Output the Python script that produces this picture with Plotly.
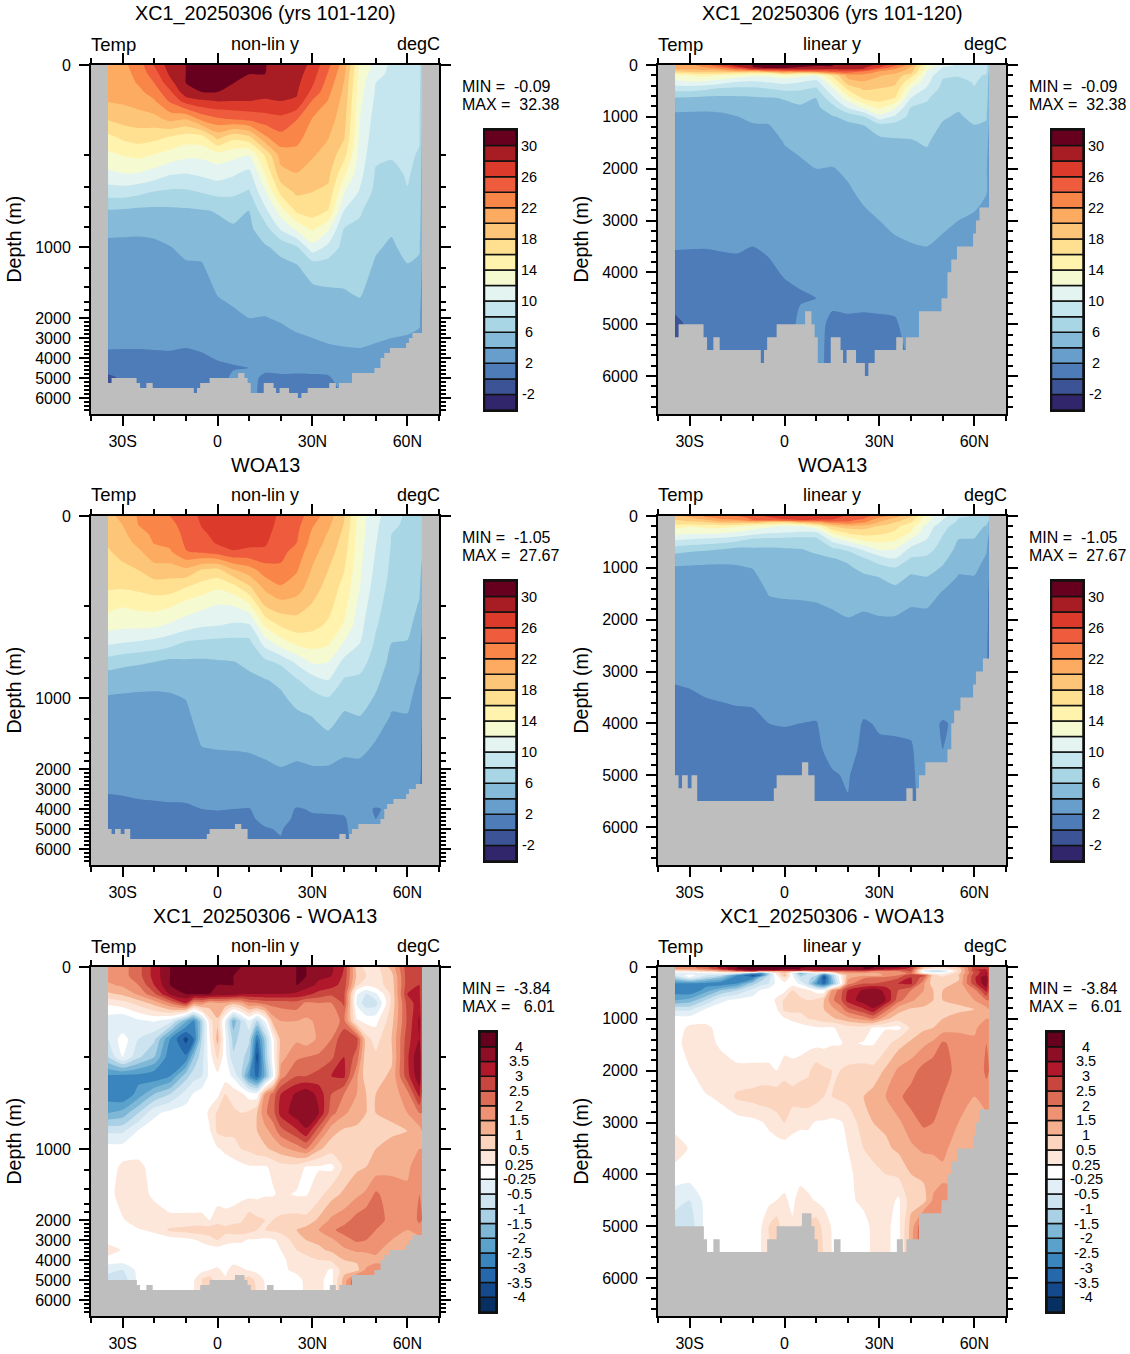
import numpy as np
import plotly.graph_objects as go

WIDTH, HEIGHT = 1130, 1354
FONT = "Liberation Sans"

# depth rows (m) shared by all three fields
depth_m = [0, 20, 40, 60, 80, 120, 160, 200, 320, 450, 640, 820, 1000, 1170, 1470,
           2000, 2500, 3000, 3500, 4000, 4500, 5000, 6000]

# zonal-mean temperature columns, one list per latitude, top to bottom
temp_lat = [-34.6, -30, -25, -20, -15, -10, -5, 0, 5, 10, 15, 20, 25, 30, 35, 40, 45, 50, 55, 60, 63.8, 64.6]

model_temp = [
    [21.5, 21.0, 20.8, 20.6, 20.1, 18.2, 15.5, 13.5, 11.5, 8.9, 5.8, 4.35, 3.65, 3.5, 3.1, 2.6, 2.4, 2.2, 2.05, 1.7, 0.5, -0.3, -0.5],
    [21.5, 21.2, 21, 20.8, 20.3, 18.8, 16.4, 14.1, 11.9, 9, 5.7, 4.3, 3.65, 3.5, 3.15, 2.6, 2.4, 2.2, 2.05, 1.6, 1.0, 0.2, 0.2],
    [23, 22.6, 22.2, 21.5, 20.8, 19.1, 16.9, 14.5, 11.8, 8.5, 5.5, 4.25, 3.65, 3.55, 3.1, 2.6, 2.4, 2.25, 2.05, 1.5, 1.0, 0.7, 0.6],
    [26.2, 25, 24, 22.9, 21.8, 19.3, 16.6, 13.9, 11.1, 7.9, 5.5, 4.35, 3.7, 3.5, 3.1, 2.6, 2.4, 2.25, 2.1, 1.6, 1.0, 0.7, 0.6],
    [29, 28.4, 27.3, 25.6, 24.3, 20.6, 15.9, 13.2, 10.1, 7.6, 5.6, 4.8, 3.95, 3.6, 3.15, 2.7, 2.5, 2.3, 2.15, 1.6, 1.0, 0.7, 0.6],
    [30.6, 30.4, 30.2, 29.3, 26.9, 20.1, 15.1, 12.5, 9.9, 7.65, 5.7, 5.05, 4.4, 3.85, 3.3, 2.7, 2.5, 2.25, 2.0, 1.7, 1.2, 0.8, 0.7],
    [31, 30.8, 30.4, 30.1, 27.7, 22.6, 15.3, 12.5, 10.3, 8.1, 5.85, 5.2, 4.5, 3.9, 3.3, 2.75, 2.55, 2.35, 2.15, 1.8, 1.4, 1.0, 0.9],
    [31.5, 31.2, 30.7, 30.1, 28.1, 23.7, 18.7, 13.1, 10.8, 8.6, 6.1, 5.6, 5.2, 4.8, 4.1, 3.4, 3.0, 2.75, 2.45, 2.1, 1.7, 1.3, 1.2],
    [31.5, 31.1, 30.6, 29.7, 28, 24.2, 16.6, 12.6, 10.2, 8.4, 6.6, 5.75, 5.35, 4.95, 4.4, 3.7, 3.3, 2.95, 2.6, 2.2, 1.9, 2.3, 2.3],
    [31.5, 30.6, 29.7, 28.9, 28, 24.6, 17.6, 12.1, 9.3, 7.8, 5.95, 5.6, 5.3, 5, 4.5, 4, 3.6, 3.2, 2.8, 2.4, 2.0, 2.3, 2.3],
    [31, 30.1, 29.3, 28.6, 27.8, 25.1, 21.7, 16.2, 13.9, 11.7, 9.4, 7.1, 5.8, 5.3, 4.7, 3.95, 3.6, 3.2, 2.9, 2.5, 2.2, 1.8, 1.7],
    [29.8, 29.3, 28.9, 28.5, 28, 25.5, 23.4, 20.9, 19.2, 16.6, 13, 10.2, 6.5, 5.6, 5, 4.15, 3.85, 3.5, 3.1, 2.7, 2.3, 1.8, 1.7],
    [29, 28.8, 28.5, 28.2, 27.8, 24.1, 22.7, 21.3, 19.9, 18.4, 16.3, 12.4, 7.8, 5.95, 5.2, 4.4, 4.15, 3.8, 3.5, 3.1, 2.35, 1.7, 1.6],
    [27.5, 26.9, 26.3, 25.5, 23.8, 21.9, 21, 20.2, 19.1, 18, 16.9, 14.4, 11.3, 7.1, 5.5, 4.6, 4.3, 4, 3.65, 3.3, 2.45, 1.7, 1.6],
    [24.5, 23.8, 23.2, 22.5, 21.9, 21, 20.1, 19.3, 18.5, 17.5, 15.9, 12.3, 9.5, 7.1, 5.75, 4.85, 4.5, 4.2, 3.85, 3.45, 2.5, 1.8, 1.7],
    [21, 20.4, 19.9, 19.6, 19.3, 18.8, 18.2, 16.7, 14.4, 12.1, 9.9, 7.9, 7.3, 6.7, 5.9, 5, 4.7, 4.3, 3.95, 3.6, 2.9, 2.8, 2],
    [13.5, 13.3, 13, 12.8, 12.5, 12, 11.7, 11.2, 10.6, 9.8, 8.2, 7.65, 7.2, 6.8, 6.2, 5.25, 4.85, 4.45, 4, 3.6, 3.2, 2.9, 2.5],
    [11.5, 10.8, 10, 9.8, 9.6, 9.15, 8.7, 8.3, 7.8, 7.4, 7, 6.6, 6.2, 5.8, 5.2, 4.6, 4.35, 4.1, 3.9, 3.5, 3, 2.8, 2.7],
    [9.5, 9.4, 9.2, 8.9, 8.5, 8, 8.3, 8.1, 7.7, 7.2, 6.7, 6.2, 5.75, 5.4, 4.9, 4.4, 4.2, 4, 3.8, 3.5, 3.2, 3, 2.9],
    [9, 8.95, 8.9, 8.85, 8.8, 8.6, 8.4, 8.2, 8.1, 7.95, 7.5, 7, 6.5, 5.95, 5.2, 4.5, 4.2, 3.9, 3.6, 3.4, 3.2, 3, 3],
    [8.8, 8.8, 8.7, 8.6, 8.5, 8.3, 8.1, 7.9, 7.7, 7.5, 7.1, 6.7, 6.2, 5.7, 5, 4.3, 4, 3.8, 3.6, 3.4, 3.2, 3, 3],
    [6.5, 6.5, 6.5, 6.4, 6.3, 6, 5.8, 5.5, 5.2, 5, 4.8, 4.5, 4.2, 3.9, 3.4, 2.8, 2.5, 2.3, 2.2, 2.1, 2, 2, 2],
]

woa_temp = [
    [19.5, 19, 18.7, 18.2, 17.8, 17, 16.2, 14.6, 12.8, 10.3, 7.1, 4.8, 3.85, 3.5, 3, 2.45, 2.3, 2.1, 1.9, 1.7, 1.4, 1.1, 1],
    [20.5, 20, 19.5, 19.1, 18.6, 17.5, 16.1, 14.1, 12.5, 10, 6.6, 4.6, 3.8, 3.5, 3, 2.5, 2.3, 2.1, 1.95, 1.7, 1.4, 1.1, 1],
    [22.2, 22, 21.3, 20.5, 19.6, 18, 16.4, 14.5, 12.5, 9.7, 6.3, 4.5, 3.75, 3.45, 3, 2.55, 2.35, 2.2, 2, 1.7, 1.4, 1.1, 1],
    [23, 22.7, 22.4, 22.1, 21.2, 19.2, 16.9, 14.7, 12.4, 9.3, 6, 4.5, 3.7, 3.4, 3, 2.6, 2.4, 2.25, 2.05, 1.75, 1.4, 1.1, 1],
    [24, 23.5, 23, 22.5, 21.7, 19, 16.9, 14.2, 11.7, 8.7, 5.5, 4.5, 3.8, 3.45, 3, 2.6, 2.45, 2.3, 2.1, 1.8, 1.45, 1.1, 1],
    [24.9, 24.7, 24.5, 24.3, 23.9, 19.5, 15.9, 13.1, 11, 7.7, 5.7, 4.7, 4.05, 3.65, 3.2, 2.7, 2.5, 2.3, 2.1, 1.85, 1.5, 1.15, 1],
    [26.4, 26.1, 25.7, 25.1, 24.3, 17.8, 15, 12.5, 10.3, 7.5, 5.7, 5.5, 5.1, 4.7, 4.1, 3.3, 3, 2.65, 2.35, 2, 1.6, 1.2, 1.1],
    [27, 26.8, 26.5, 26.2, 25, 17.4, 14.2, 11.8, 10.1, 7.3, 5.85, 5.5, 5.1, 4.8, 4.2, 3.4, 3, 2.7, 2.4, 2.05, 1.7, 1.3, 1.2],
    [27, 26.9, 26.7, 26.4, 25.9, 19.8, 15, 12, 9.7, 7.3, 5.95, 5.55, 5.15, 4.8, 4.25, 3.4, 3, 2.65, 2.3, 2, 1.85, 1.4, 1.2],
    [27, 26.9, 26.6, 26.4, 25.6, 21.1, 17.5, 13.4, 9.7, 7.4, 6.3, 5.7, 5.3, 4.9, 4.3, 3.5, 3.15, 2.8, 2.45, 1.95, 1.9, 1.7, 1.6],
    [27, 26.8, 26.5, 26.2, 25.7, 23, 20.4, 18, 14.3, 10.8, 7.5, 5.9, 5.5, 5.1, 4.5, 3.7, 3.4, 3.1, 2.8, 2.5, 2.15, 1.95, 1.9],
    [25.6, 25.4, 25.2, 25, 24.6, 23.6, 21.7, 19.1, 16.3, 13, 8.4, 6.4, 5.65, 5.2, 4.6, 3.95, 3.6, 3.3, 3, 2.6, 2.25, 2.05, 1.9],
    [24.8, 24.6, 24.3, 24, 23.2, 22.2, 21, 18.8, 17.1, 14.5, 10.4, 7.8, 6.6, 5.65, 4.7, 3.7, 3.3, 2.95, 2.5, 1.9, 1.85, 1.7, 1.6],
    [23.1, 22.2, 21.6, 21.2, 20.7, 19.8, 18.8, 17.8, 16.6, 14.8, 12.3, 9.1, 7.3, 6.05, 5, 3.85, 3.4, 3, 2.55, 2.1, 1.85, 1.7, 1.6],
    [21, 20.4, 19.8, 19.4, 18.9, 18, 17.3, 16.6, 15.7, 14.3, 12, 10, 7.9, 6.8, 5.3, 3.8, 3.4, 3, 2.55, 2.1, 1.9, 1.8, 1.7],
    [18.2, 17.9, 17.5, 17.1, 16.8, 16.1, 15.3, 14.7, 13.8, 11.8, 9.4, 7.8, 6.7, 5.75, 4.6, 3.5, 3.2, 2.85, 2.45, 2.1, 1.95, 1.9, 1.8],
    [13, 12.9, 12.8, 12.7, 12.6, 12.3, 12, 11.2, 10.6, 10, 8.8, 7.6, 6.9, 6, 4.7, 3.5, 3.2, 2.9, 2.5, 2.2, 2.3, 2.3, 2.3],
    [10.6, 10.4, 10.3, 10.1, 9.9, 9.5, 9, 8.6, 8.2, 7.7, 7.1, 6.5, 5.8, 5, 3.9, 3.2, 2.9, 2.6, 2.3, 1.95, 2, 2.1, 2.1],
    [8.9, 8.5, 8, 7.9, 7.8, 7.6, 7.4, 7.1, 6.7, 6, 5.5, 4.9, 4.3, 3.9, 3.6, 3.2, 3, 2.7, 2.3, 2.1, 2.1, 2.1, 2.1],
    [7.6, 7.5, 7.4, 7.4, 7.3, 7.2, 7.1, 6.9, 6.5, 5.9, 5.3, 4.7, 4.3, 3.95, 3.6, 3.1, 2.9, 2.6, 2.4, 2.2, 2.1, 2.1, 2.1],
    [7.4, 7.3, 7.2, 7.1, 7, 6.7, 6.3, 5.8, 5.2, 4.7, 4.2, 3.8, 3.5, 3.2, 3, 2.8, 2.5, 2.3, 2.2, 2, 2, 2, 2],
    [7, 6.8, 6.6, 6.4, 6.2, 5.6, 5, 4.5, 4, 3.5, 3.1, 2.7, 2.3, 2, 1.7, 1.5, 1.2, 1, 1, 1, 1, 1, 1],
]

# model minus climatology, one list per depth row, west to east
diff_lat = [-34.6, -30, -25, -20, -15, -10, -7.5, -5, -2.5, 0, 2.5, 5, 7.5, 10, 12.5, 15, 17.5, 20,
            25, 28, 32, 36, 40, 44, 47, 50, 55, 60, 63.8, 64.6]

diff_temp = [
    [1.8, 1.8, 2.3, 3.2, 4.5, 5, 5.5, 5.5, 5.5, 5.5, 5, 4.6, 4, 3.8, 3.8, 3.8, 3.8, 3.9, 4.5, 4.2, 3.8, 3.6, 3, 0.8, 0.4, 0.4, 1.2, 2.8, 3, 2.5],
    [1.7, 1.8, 2.3, 3.2, 4.5, 5, 5.5, 5.5, 5.5, 5.5, 5, 4.4, 3.9, 3.7, 3.7, 3.7, 3.7, 3.9, 4.5, 4, 3.6, 3.5, 2.9, 0.9, 0.5, 0.4, 0.8, 2.8, 3, 2.5],
    [1.4, 1.6, 2, 3, 4.2, 5, 5.5, 5, 4.6, 4.5, 4.2, 4.1, 3.6, 3.6, 3.6, 3.6, 3.6, 3.8, 4.2, 3.7, 3.4, 3.2, 2.8, 0.6, 0.3, 0.4, 0.7, 2.8, 3, 2.5],
    [0.9, 1.1, 1.6, 2.4, 3.6, 4.4, 4.5, 4.2, 4, 3.8, 3.8, 3.8, 3.5, 3.5, 3.5, 3.5, 3.5, 3.5, 3.4, 3.2, 2.8, 2.6, 2.6, -0.2, -0.5, -0.3, 0.6, 3, 3.1, 2.5],
    [0.3, 0.4, 0.7, 1.2, 2, 3, 1.7, 1.8, 1.3, 1.5, 1.4, 1.2, 1.4, 1.9, 2, 2.2, 2.2, 2.2, 2.3, 1.9, 2, 2, 2.6, -0.3, -0.8, -0.7, 0.6, 2.7, 3.3, 2.5],
    [-0.4, -0.5, -0.3, -0.2, -0.4, -1.9, -2.6, -1.1, 0.4, 0.9, -0.3, -1.8, -0.9, -0.3, -1, -0.2, 1.2, 1.5, 1.5, 1.4, 1.6, 1.8, 2.1, 0.3, 0.1, 0.1, 0.8, 2.6, 3.6, 2.5],
    [-0.5, 0, -0.5, -0.9, -2.5, -3.7, -3, -1, 0.2, 1.2, -0.2, -1.2, -0.8, -0.9, -3, -1.3, 0.1, 1.2, 1.4, 1.2, 1.6, 2, 3, 2.7, 0.7, 0.4, 1, 2.8, 3.5, 2.5],
    [-1, -0.2, -0.9, -1.5, -2.9, -2.9, -1.5, -0.7, 0, 0.6, -0.1, -0.9, -0.8, -1.3, -3.7, -1.5, 0, 1.3, 1.9, 2, 2.1, 2.4, 3, 2.3, 0.6, 0.6, 0.9, 2.9, 4, 2.5],
    [-2.6, -2.7, -2.7, -2.9, -2.5, -1.2, -0.7, -0.5, -0.1, 0.1, 0, -0.3, -0.9, -2.4, -3.2, -1.8, -0.3, 1.8, 2.5, 2.5, 2.7, 3, 3.1, 1.6, 0.7, 0.8, 1.1, 2.8, 3.9, 2.5],
    [-2.8, -3, -2.3, -1.5, -1, -0.4, -0.2, 0, 0, 0.1, 0.5, 0.4, 0.3, 0, -0.1, 1.5, 2.2, 3, 3.6, 3.9, 3.3, 2.5, 2, 1.5, 1, 1, 1.2, 1.8, 3.2, 2.5],
    [-2, -1.8, -1, -0.3, -0.1, 0, 0, 0, 0.3, 0.6, 0.8, 0.6, 0.5, 0.6, 1, 1.9, 2.3, 3.2, 3.8, 4.4, 3.5, 2.2, 1.6, 1.2, 1, 1, 1.1, 1.5, 2, 2],
    [-0.6, -0.6, -0.2, 0, 0, 0, 0, 0, 0.2, 0.6, 0.7, 0.6, 0.8, 0.8, 1, 1.3, 1.7, 2.3, 2.9, 3.4, 2.2, 1.2, 0.9, 0.9, 0.9, 0.9, 0.9, 1, 1.3, 1.5],
    [0, 0, 0.1, 0.1, 0.1, 0.1, 0.1, 0.1, 0.1, 0.2, 0.3, 0.4, 0.5, 0.6, 0.8, 0.9, 1.1, 1.3, 1.7, 2, 1.1, 0.7, 0.6, 0.8, 0.8, 1, 1.2, 1.2, 1.5, 1.5],
    [0, 0.3, 0.3, 0.1, 0, 0, 0, 0, 0, 0, 0, 0, 0.1, 0.2, 0.2, 0.2, 0.3, 0.4, 0.4, 0.2, 0.2, 0.1, 0.6, 0.9, 1, 1.2, 1.4, 1.4, 1.8, 1.8],
    [0, 0.4, 0.4, 0.1, 0, 0, 0, 0, 0, 0, 0, 0, 0.1, 0.1, 0.1, 0.2, 0.2, 0.3, 0.2, 0.2, 0.4, 0.8, 1.1, 1.4, 1.6, 2.1, 1.7, 1.6, 2, 2],
    [0.1, 0.2, 0.4, 0.45, 0.3, 0.3, 0.3, 0.3, 0.25, 0.4, 0.35, 0.4, 0.45, 0.8, 0.6, 0.5, 0.5, 0.6, 0.7, 0.65, 1.1, 1.6, 1.8, 2.2, 2.4, 2.4, 1.7, 1.6, 2.1, 2],
    [0, 0.1, 0.2, 0.3, 0.6, 0.7, 0.8, 0.8, 0.8, 0.8, 0.7, 0.8, 0.8, 0.7, 0.5, 0.5, 0.6, 0.7, 1, 1.2, 1.5, 1.9, 2.2, 2.3, 2.4, 2, 1.6, 1.5, 1.8, 2],
    [0, 0, 0, 0, 0, 0.1, 0.2, 0.3, 0.4, 0.5, 0.35, 0.3, 0.3, 0.2, 0.2, 0.15, 0.2, 0.3, 0.8, 1, 1.1, 1.4, 1.8, 2.1, 2, 1.7, 1.5, 1.3, 1.3, 1.3],
    [0.4, 0.2, 0, 0, 0, 0, 0, 0, 0, 0, 0, 0, 0, 0, 0, 0, 0.1, 0.25, 0.5, 0.7, 0.9, 1.1, 1.4, 1.6, 1.6, 1.6, 1.3, 1.3, 1.3, 1.3],
    [0, 0, 0, 0, 0, 0, 0, 0, 0, 0, 0, 0, 0, 0, 0, 0, 0.1, 0.2, 0.3, 0.4, 0.5, 0.6, 1, 1.1, 1.2, 1.4, 1.3, 1.3, 1.3, 1.3],
    [-0.4, -0.5, -0.1, 0, 0, 0, 0, 0.1, 0.25, 0.3, 0.1, 0.4, 0.3, 0.2, 0.1, 0.1, 0.1, 0.15, 0.3, 0.3, 0.4, 0.15, 0.8, 0.8, 1.6, 1.7, 1.7, 1.7, 1.7, 1.7],
    [-0.8, -0.8, -0.1, 0, 0, 0, 0.2, 0.5, 0.8, 0.3, 0.3, 0.5, 0.6, 0.8, 0.4, 0.2, 0.1, 0.1, 0.1, 0.3, 0.3, 0.1, 1.2, 2.6, 1.8, 1.8, 1.8, 1.8, 1.8, 1.8],
    [-0.5, -0.5, -0.1, 0, 0, 0, 0.2, 0.4, 0.5, 0.3, 0.3, 0.5, 0.6, 0.8, 0.5, 0.2, 0.1, 0.1, 0.1, 0.3, 0.3, 0.1, 1.2, 2.4, 1.8, 1.8, 1.8, 1.8, 1.8, 1.8],
]

# sea-floor steps: cell edges in latitude and the floor depth of each cell
model_floor_lat = [-34.6, -33.5, -25.6, -24.5, -22.5, -20.5, -7.5, -6.5, -5.5, -2.5, 6.5, 8.5, 9.5, 10.5, 14.6,
                   17.7, 18.5, 19.6, 22.6, 25.4, 26.5, 28.5, 35.3, 37.4, 38.4, 42.5, 49.6, 51.5, 52.7, 54.5,
                   59.6, 60.5, 61.6, 64.6]
model_floor_depth = [5250, 5000, 5250, 5500, 5250, 5500, 5750, 5500, 5250, 5000, 4750, 5000, 5250, 5750, 5250,
                     5500, 5750, 5500, 5750, 6000, 5750, 5500, 5250, 5500, 5250, 4750, 4500, 4000, 3750,
                     3500, 3250, 3000, 2750]

woa_floor_lat = [-34.6, -33.5, -32.4, -30.6, -29.4, -27.6, -3.4, -2.5, 5.5, 7.5, 9.5, 38.5, 40.5, 41.6, 42.5, 44.5,
                 51.5, 52.7, 53.6, 55.6, 59.6, 60.5, 62.7, 64.6]
woa_floor_depth = [5000, 5250, 5000, 5250, 5000, 5500, 5250, 5000, 4750, 5000, 5500, 5250, 5500, 5250, 5000,
                   4750, 4500, 4000, 3750, 3500, 3250, 3000, 2750]

diff_floor_lat = [-34.6, -25.5, -24.5, -22.5, -20.5, -5.5, -2.5, 5.5, 8.5, 9.5, 10.5, 15.6, 17.7, 35.5, 37.4, 38.5,
                  42.5, 49.6, 51.5, 52.7, 54.5, 59.6, 60.5, 61.6, 64.6]
diff_floor_depth = [5000, 5250, 5500, 5250, 5500, 5250, 5000, 4750, 5000, 5250, 5500, 5250, 5500, 5250, 5500,
                    5250, 4750, 4500, 4000, 3750, 3500, 3250, 3000, 2750]

# contour levels and band colours, coldest first
temp_levels = [-2, 0, 2, 4, 6, 8, 10, 12, 14, 16, 18, 20, 22, 24, 26, 28, 30]
temp_colors = ["#31256c", "#3c5396", "#4d7cb8", "#689ecc", "#85bbd8", "#a9d6e5", "#c6e6ef", "#e4f4f1", "#f6fad0",
               "#fff3ae", "#fee090", "#fdc578", "#fdab60", "#f98549", "#ee5c3d", "#dc3b2b", "#a81c24", "#67001f"]
temp_labels = ["-2", "", "2", "", "6", "", "10", "", "14", "", "18", "", "22", "", "26", "", "30"]

diff_levels = [-4, -3.5, -3, -2.5, -2, -1.5, -1, -0.5, -0.25, 0.25, 0.5, 1, 1.5, 2, 2.5, 3, 3.5, 4]
diff_colors = ["#053061", "#14498c", "#2569ac", "#3a85bd", "#5aa2cc", "#7fb7d7", "#a9d0e5", "#cde3ef", "#e3eff6",
               "#ffffff", "#fde6da", "#fcd5bf", "#f4b08f", "#ee9273", "#dc6c55", "#c9463f", "#b2182b", "#8e0e26",
               "#67001f"]
diff_labels = ["-4", "-3.5", "-3", "-2.5", "-2", "-1.5", "-1", "-0.5", "-0.25", "0.25", "0.5", "1", "1.5", "2",
               "2.5", "3", "3.5", "4"]

panel_titles = ["XC1_20250306 (yrs 101-120)", "WOA13", "XC1_20250306 - WOA13"]
min_labels = ["-0.09", "-1.05", "-3.84"]
max_labels = ["32.38", "27.67", "\u00a06.01"]

# non-linear depth axis: depths and their distance below the surface on the stretched scale
stretch_depth = [0, 200, 400, 600, 800, 1000, 1200, 1400, 1600, 1800, 2000, 6800]
stretch_pos = [0, 90, 122, 142, 162, 182, 203, 222, 237, 245, 253, 349]
nonlin_minor = [200, 400, 600, 800, 1200, 1400, 1600, 1800, 2200, 2400, 2600, 2800, 3200, 3400, 3600, 3800,
                4200, 4400, 4600, 4800, 5200, 5400, 5600, 5800, 6200, 6400, 6600]
depth_major = [0, 1000, 2000, 3000, 4000, 5000, 6000]
lin_major = depth_major
lin_minor = [d for d in range(200, 6800, 200) if d % 1000]
LIN_BOTTOM = 6733

lat_major = [-30, 0, 30, 60]
lat_major_text = ["30S", "0", "30N", "60N"]
lat_minor = [-40, -20, -10, 10, 20, 40, 50, 70]


def band_index(values, levels):
    """Map values onto equal-width band numbers so unevenly spaced levels can be contoured."""
    knots = [levels[0] - 100] + list(levels) + [levels[-1] + 100]
    ranks = [0] + list(range(1, len(levels) + 1)) + [len(levels) + 1]
    return np.interp(values, knots, ranks)


def stretch(depth):
    return np.interp(depth, stretch_depth, stretch_pos)


def px_x(p):
    return p / WIDTH


def px_y(p):
    return 1 - p / HEIGHT


def step_colorscale(colors):
    n = len(colors)
    scale = []
    for i, c in enumerate(colors):
        scale += [[i / n, c], [(i + 1) / n, c]]
    return scale


fig = go.Figure()
layout = dict(annotations=[])


def note(text, x, y, size, anchor="left", yref=None, angle=0):
    layout["annotations"].append(dict(
        text=text, x=px_x(x), y=(y if yref else px_y(y)), xref="paper", yref=yref or "paper",
        xanchor=anchor, yanchor="middle", showarrow=False, textangle=angle,
        font=dict(family=FONT, size=size, color="black"), borderpad=0, borderwidth=0))


fields = [
    (model_temp, True, temp_lat, temp_levels, temp_colors, temp_labels, model_floor_lat, model_floor_depth),
    (woa_temp, True, temp_lat, temp_levels, temp_colors, temp_labels, woa_floor_lat, woa_floor_depth),
    (diff_temp, False, diff_lat, diff_levels, diff_colors, diff_labels, diff_floor_lat, diff_floor_depth),
]

axis_no = 0
for row, (table, by_lat, lats, levels, colors, labels, floor_lat, floor_depth) in enumerate(fields):
    top = 65 + 451 * row
    bottom = top + 349
    z = np.array(table, dtype=float)
    if by_lat:
        z = z.T
    z_band = band_index(z, levels)
    for col, linear in enumerate([False, True]):
        left = 91 + 567 * col
        right = left + 348
        axis_no += 1
        xa, ya = f"x{axis_no}", f"y{axis_no}"
        xkey, ykey = f"xaxis{axis_no}", f"yaxis{axis_no}"

        if linear:
            ypos = np.array(depth_m, float)
            floor_to_y = lambda d: np.array(d, float)
            y_range = [LIN_BOTTOM, 0]
            major_y, minor_y = lin_major, lin_minor
            y_bottom = LIN_BOTTOM
        else:
            ypos = stretch(depth_m)
            floor_to_y = stretch
            y_range = [349, 0]
            major_y, minor_y = list(stretch(depth_major)), list(stretch(nonlin_minor))
            y_bottom = 349

        n_bands = len(levels) + 1
        fig.add_trace(go.Contour(
            x=lats, y=ypos, z=z_band, xaxis=xa, yaxis=ya, showscale=False, hoverinfo="skip",
            zmin=0, zmax=n_bands, autocontour=False,
            colorscale=step_colorscale(colors),
            contours=dict(coloring="fill", start=1, end=len(levels), size=1, showlines=False),
            line=dict(width=0, smoothing=0.6)))

        # sea floor as a stepped grey polygon closed along the bottom of the axis,
        # pushed slightly past the basin edges so no seam shows against the land
        edge_lat = list(floor_lat)
        edge_lat[0] -= 0.4
        edge_lat[-1] += 0.4
        fx = list(np.repeat(edge_lat, 2)[1:-1]) + [edge_lat[-1], edge_lat[0]]
        fy = list(floor_to_y(np.repeat(floor_depth, 2))) + [y_bottom, y_bottom]
        fig.add_trace(go.Scatter(
            x=fx, y=fy, xaxis=xa, yaxis=ya, mode="lines", fill="toself", fillcolor="#bebebe",
            line=dict(width=0), hoverinfo="skip", showlegend=False))

        tick_common = dict(ticks="outside", tickcolor="black", tickwidth=2, ticklen=10,
                           showline=True, linecolor="black", linewidth=2, mirror="allticks",
                           showgrid=False, zeroline=False,
                           tickfont=dict(family=FONT, size=16, color="black"))
        layout[xkey] = dict(domain=[px_x(left), px_x(right)], range=[-40, 70], anchor=ya,
                            tickmode="array", tickvals=lat_major, ticktext=lat_major_text,
                            ticklabelstandoff=2,
                            minor=dict(tickmode="array", tickvals=lat_minor, ticks="outside", ticklen=5,
                                       tickwidth=1.5, tickcolor="black", showgrid=False),
                            **tick_common)
        layout[ykey] = dict(domain=[px_y(bottom), px_y(top)], range=y_range, anchor=xa,
                            tickmode="array", tickvals=major_y, ticktext=[str(d) for d in depth_major],
                            ticklabelstandoff=5,
                            minor=dict(tickmode="array", tickvals=minor_y, ticks="outside", ticklen=5,
                                       tickwidth=1.5, tickcolor="black", showgrid=False),
                            **tick_common)

        # labelled colour key built from stacked bars
        axis_no += 1
        bx, by = f"x{axis_no}", f"y{axis_no}"
        if by_lat:
            box_l, box_r, label_x = left + 393.5, left + 425, left + 437.5
        else:
            box_l, box_r, label_x = left + 389, left + 405, left + 428
        box_top = top + 65
        box_bot = box_top + 280
        fig.add_trace(go.Bar(
            x=[0] * n_bands, y=[1] * n_bands, base=list(range(n_bands)), width=1,
            xaxis=bx, yaxis=by, marker=dict(color=colors, line=dict(color="#111111", width=1.5)),
            hoverinfo="skip", showlegend=False))
        layout[f"xaxis{axis_no}"] = dict(domain=[px_x(box_l), px_x(box_r)], range=[-0.5, 0.5], anchor=by,
                                         showticklabels=False, ticks="", showgrid=False, zeroline=False,
                                         showline=True, linecolor="#111111", linewidth=1.5, mirror=True)
        layout[f"yaxis{axis_no}"] = dict(domain=[px_y(box_bot), px_y(box_top)], range=[0, n_bands], anchor=bx,
                                         showticklabels=False, ticks="", showgrid=False, zeroline=False,
                                         showline=True, linecolor="#111111", linewidth=1.5, mirror=True)
        for i, lab in enumerate(labels):
            if lab:
                note(lab, label_x, i + 1, 14.5, anchor="center", yref=by)

        # titles, corner strings and range text
        centre = left + 174
        note(panel_titles[row], centre, top - 51, 19.8, anchor="center")
        note("Temp", left, top - 21, 18.5)
        note("linear y" if linear else "non-lin y", centre, top - 21, 18, anchor="center")
        note("degC", right + 1, top - 21, 18, anchor="right")
        note("Depth (m)", left - 78, (top + bottom) / 2, 19.5, anchor="center", angle=-90)
        note(f"MIN = \u00a0{min_labels[row]}", left + 371, top + 21, 16)
        note(f"MAX = \u00a0{max_labels[row]}", left + 371, top + 39, 16)

fig.update_layout(
    width=WIDTH, height=HEIGHT, margin=dict(l=0, r=0, t=0, b=0, pad=0, autoexpand=False),
    paper_bgcolor="white", plot_bgcolor="#bebebe", showlegend=False, barmode="overlay",
    font=dict(family=FONT), **layout)
fig.write_html("out.html", config=dict(displayModeBar=False))
